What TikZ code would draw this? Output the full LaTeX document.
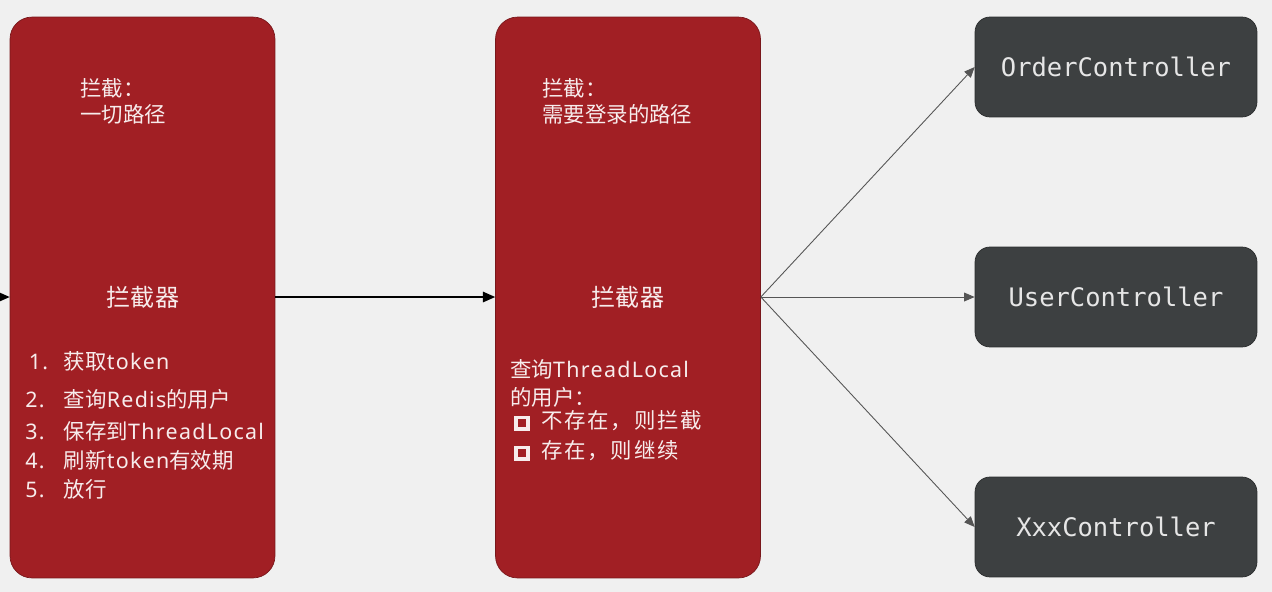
\documentclass[tikz,border=0pt]{standalone}
\usepackage{fontspec}
\setmainfont{Noto Sans CJK SC}
\newfontfamily\latinfont[LetterSpace=6]{Noto Sans}
\newfontfamily\widecjk[LetterSpace=8]{Noto Sans CJK SC}
\newfontfamily\codefont{DejaVu Sans Mono}
\usetikzlibrary{arrows.meta}

\definecolor{bgGray}{HTML}{F0F0F0}
\definecolor{boxRed}{HTML}{A11F24}
\definecolor{boxDark}{HTML}{3D4041}
\definecolor{txtLight}{HTML}{F7ECEC}
\definecolor{txtCode}{HTML}{E6E6E6}
\definecolor{lineGray}{HTML}{555555}

\newcommand{\lat}[1]{{\latinfont #1}}
\newcommand{\chkbox}{\tikz[baseline=0pt]\draw[txtLight,line width=2.2pt] (0pt,0pt) rectangle (6.5pt,6.5pt);}

\tikzset{
    interceptor/.style={fill=boxRed, draw=boxRed!75!black, rounded corners=0.44cm,
        minimum width=5.3cm, minimum height=11.22cm},
    ctrl/.style={fill=boxDark, draw=boxDark!70!black, rounded corners=0.3cm,
        minimum width=5.64cm, minimum height=2cm, text=txtCode,
        font=\codefont\fontsize{14.5}{17}\selectfont},
    note/.style={text=txtLight, font=\fontsize{12.2}{15}\selectfont, anchor=west, inner sep=0pt},
    title/.style={text=txtLight, font=\fontsize{13.7}{16}\selectfont, inner sep=0pt},
    flow/.style={black, line width=0.7pt, -{Triangle[length=7pt,width=6pt]}},
    fan/.style={lineGray, line width=0.5pt, -{Triangle[length=6pt,width=5pt]}}
}

\begin{document}
\begin{tikzpicture}[x=0.02cm, y=-0.02cm]
    \fill[bgGray] (0,0) rectangle (1272,592);
    \useasboundingbox (0,0) rectangle (1272,592);

    % interceptors
    \node[interceptor] (refresh) at (142.5,297.5) {};
    \node[interceptor] (login) at (628,297.5) {};

    % controllers
    \node[ctrl] (order) at (1116,67) {OrderController};
    \node[ctrl] (user) at (1116,297) {UserController};
    \node[ctrl] (xxx) at (1116,527) {XxxController};

    % left interceptor text
    \node[note] (refreshPath1) at (80,88) {拦截：};
    \node[note] (refreshPath2) at (80,114) {一切路径};
    \node[title] (refreshTitle) at (143,297) {拦截器};
    \node[note] (step1) at (25,361) {\makebox[1.8em][l]{\lat{\,1.}}获取\lat{token}};
    \node[note] (step2) at (25,399) {\makebox[1.8em][l]{\lat{2.}}查询\lat{Redis}的用户};
    \node[note] (step3) at (25,431) {\makebox[1.8em][l]{\lat{3.}}保存到\lat{ThreadLocal}};
    \node[note] (step4) at (25,460) {\makebox[1.8em][l]{\lat{4.}}刷新\lat{token}有效期};
    \node[note] (step5) at (25,489) {\makebox[1.8em][l]{\lat{5.}}放行};

    % right interceptor text
    \node[note] (loginPath1) at (542,88) {拦截：};
    \node[note] (loginPath2) at (542,114) {需要登录的路径};
    \node[title] (loginTitle) at (628,297) {拦截器};
    \node[note] (check1) at (510,369) {查询\lat{ThreadLocal}};
    \node[note] (check2) at (510,397) {的用户：};
    \node[note] (check3) at (514,421) {\chkbox\hspace{0.55em}{\widecjk 不存在，则拦截}};
    \node[note] (check4) at (514,451) {\chkbox\hspace{0.55em}{\widecjk 存在，则继续}};

    % arrows
    \coordinate (request) at (-4,297);
    \draw[flow] (request) -- (refresh.west |- request);
    \draw[flow] (refresh.east |- request) -- (login.west |- request);
    \draw[fan] (login.east |- request) -- (order.west);
    \draw[fan] (login.east |- request) -- (user.west);
    \draw[fan] (login.east |- request) -- (xxx.west);
\end{tikzpicture}
\end{document}
